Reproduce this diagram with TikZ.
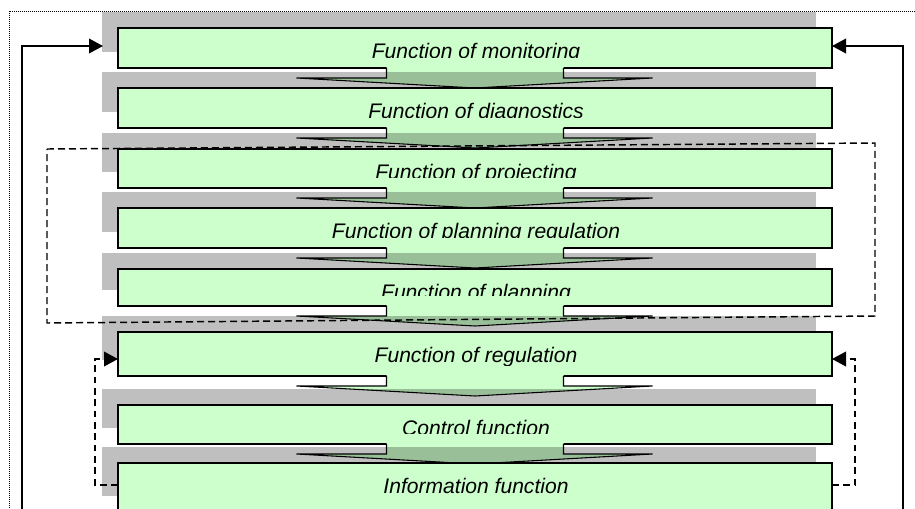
\documentclass[tikz,border=0pt]{standalone}
\usepackage{fontspec}
\setmainfont{Liberation Sans}
\usepackage{xcolor}
\usetikzlibrary{arrows.meta,shadows}

\definecolor{boxgreen}{HTML}{CCFFCC}

\tikzset{
  funcbox/.style={draw=black, line width=1.1pt, fill=boxgreen, minimum width=535.5pt,
    inner sep=0pt, outer sep=0pt,
    drop shadow={shadow xshift=-12pt, shadow yshift=12pt, fill=black, opacity=0.25}},
  functext/.style={font=\itshape\fontsize{15.8pt}{18pt}\selectfont, inner sep=0pt, anchor=base},
  flowarrow/.pic={
    \fill[boxgreen] (-88.5,-5) -- (-88.5,10) -- (-178.5,10) -- (0,20) -- (177.5,10) -- (88.5,10) -- (88.5,-5) -- cycle;
    \draw[line width=0.8pt] (-88.5,0) -- (-88.5,10) -- (-178.5,10) -- (0,20) -- (177.5,10) -- (88.5,10) -- (88.5,0);
  },
  loopline/.style={line width=1.1pt, -{Triangle[length=10.5pt, width=11pt]}},
  feedline/.style={loopline, dash pattern=on 5pt off 3.5pt},
  groupline/.style={line width=1.1pt, dash pattern=on 5.25pt off 3pt},
  framedot/.style={line width=0.6pt, dash pattern=on 0.75pt off 0.75pt}
}

\begin{document}
\begin{tikzpicture}[x=0.75pt, y=-0.75pt]

\useasboundingbox (0,0) rectangle (915,508);
\clip (0,0) rectangle (915,508);

\draw [framedot] (9,11) rectangle (940,540);

% monitoring
\node[funcbox, minimum height=30pt] (mon) at (475,48) {};
\begin{scope}
\clip (mon.north west) rectangle ([yshift=8.25pt]mon.south east);
\node[functext] (mon-t) at ([xshift=0.75pt, yshift=-22.5pt]mon.north) {Function of monitoring};
\end{scope}
\pic at (mon.south) {flowarrow};

% diagnostics
\node[funcbox, minimum height=30pt] (diag) at (475,108) {};
\begin{scope}
\clip (diag.north west) rectangle ([yshift=8.25pt]diag.south east);
\node[functext] (diag-t) at ([xshift=0.75pt, yshift=-22.5pt]diag.north) {Function of diagnostics};
\end{scope}
\pic at (diag.south) {flowarrow};

% projecting
\node[funcbox, minimum height=29.25pt] (proj) at (475,168.5) {};
\begin{scope}
\clip (proj.north west) rectangle ([yshift=8.25pt]proj.south east);
\node[functext] (proj-t) at ([xshift=0.75pt, yshift=-22.5pt]proj.north) {Function of projecting};
\end{scope}
\pic at (proj.south) {flowarrow};

% planning regulation
\node[funcbox, minimum height=30pt] (preg) at (475,228) {};
\begin{scope}
\clip (preg.north west) rectangle ([yshift=8.25pt]preg.south east);
\node[functext] (preg-t) at ([xshift=0.75pt, yshift=-22.5pt]preg.north) {Function of planning regulation};
\end{scope}
\pic at (preg.south) {flowarrow};

% planning
\node[funcbox, minimum height=27.75pt] (plan) at (475,287.5) {};
\begin{scope}
\clip (plan.north west) rectangle ([yshift=8.25pt]plan.south east);
\node[functext] (plan-t) at ([xshift=0.75pt, yshift=-22.5pt]plan.north) {Function of planning};
\end{scope}
\pic at (plan.south) {flowarrow};

% regulation
\node[funcbox, minimum height=33pt] (reg) at (475,354) {};
\begin{scope}
\clip (reg.north west) rectangle ([yshift=8.25pt]reg.south east);
\node[functext] (reg-t) at ([xshift=0.75pt, yshift=-22.5pt]reg.north) {Function of regulation};
\end{scope}
\pic at (reg.south) {flowarrow};

% control
\node[funcbox, minimum height=29.25pt] (ctrl) at (475,424.5) {};
\begin{scope}
\clip (ctrl.north west) rectangle ([yshift=8.25pt]ctrl.south east);
\node[functext] (ctrl-t) at ([xshift=0.75pt, yshift=-22.5pt]ctrl.north) {Control function};
\end{scope}
\pic at (ctrl.south) {flowarrow};

% information
\node[funcbox, minimum height=36.75pt] (info) at (475,487.5) {};
\node[functext] (info-t) at ([xshift=0.75pt, yshift=-22.5pt]info.north) {Information function};

% planning group
\draw [groupline] (47,149) -- (875,143) -- (875,316) -- (47,323) -- cycle;

% outer loops
\coordinate (lbot) at (22,540);
\coordinate (rbot) at (903,540);
\draw [loopline] (lbot) |- ([xshift=-11.25pt, yshift=1.5pt]mon.west);
\draw [loopline] (rbot) |- ([yshift=1.5pt]mon.east);

% feedback of information
\draw [feedline] ([yshift=1.9pt]info.west) -- ++(-23,0) |- ([yshift=-3.75pt]reg.west);
\draw [feedline] ([yshift=1.9pt]info.east) -- ++(23,0) |- ([yshift=-3.75pt]reg.east);

\end{tikzpicture}
\end{document}
